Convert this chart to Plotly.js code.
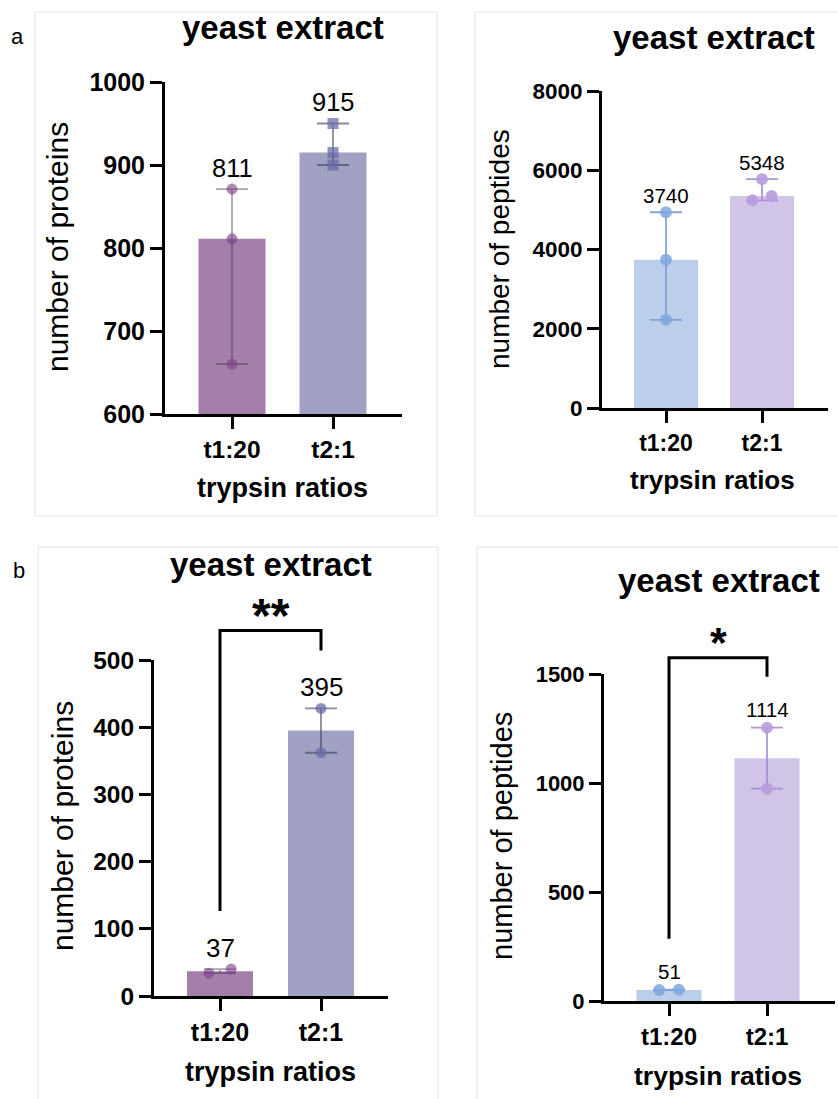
<!DOCTYPE html>
<html>
<head>
<meta charset="utf-8">
<script src="https://cdn.plot.ly/plotly-3.0.1.min.js"></script>
<style>
  html, body { margin: 0; padding: 0; background: #ffffff; }
  #chart { width: 838px; height: 1099px; }
</style>
</head>
<body>
<div id="chart"></div>
<script>
// ---------------- data ----------------
const categories = ['t1:20', 't2:1'];
const panelTitle = 'yeast extract';
const xAxisTitle = 'trypsin ratios';
const yTitleProteins = 'number of proteins';
const yTitlePeptides = 'number of peptides';
const panelLetters = ['a', 'b'];

// (a) proteins
const aProteinBars = [811, 915];
const aProteinT1 = [871, 811, 660];
const aProteinT2 = [950, 915, 900];
// (a) peptides
const aPeptideBars = [3740, 5348];
const aPeptideT1 = [4940, 3740, 2225];
const aPeptideT2 = [5776, 5241, 5348];
// (b) proteins
const bProteinBars = [37, 395];
const bProteinT1 = [34, 40];
const bProteinT2 = [428, 362];
const bProteinSignificance = '**';
// (b) peptides
const bPeptideBars = [51, 1114];
const bPeptideT1 = [50, 52];
const bPeptideT2 = [1254, 974];
const bPeptideSignificance = '*';

// ---------------- style / layout ----------------
const W = 838, H = 1099;
const FONT = 'Liberation Sans, Arial, Helvetica, sans-serif';
const PURPLE = '#A47FA9', SLATE = '#A1A1C4', BLUE = '#BCCFEA', LILAC = '#D0C4E7';
const PURPLE_PT = 'rgba(122,66,138,0.62)', SLATE_PT = 'rgba(104,104,168,0.72)';
const BLUE_PT = 'rgba(128,166,222,0.85)', LILAC_PT = 'rgba(184,156,222,0.9)';
const PURPLE_ERR = 'rgba(60,50,70,0.45)', SLATE_ERR = 'rgba(60,60,90,0.6)';
const BLUE_ERR = 'rgba(118,155,215,0.9)', LILAC_ERR = 'rgba(168,138,212,0.9)';

const panels = [
  { bars: aProteinBars, reps: [aProteinT1, aProteinT2], yTitle: yTitleProteins,
    box: [35, 12, 437, 516], xPx: [165, 402], tickPx: [232, 333], barPx: 67,
    yPx: [82, 414], yRange: [600, 1000], dtick: 100,
    barColors: [PURPLE, SLATE], ptColors: [PURPLE_PT, SLATE_PT], errColors: [PURPLE_ERR, SLATE_ERR],
    symbols: ['circle', 'square'], jitter: [[0, 0, 0], [0, 0, 0]], markerSize: 11,
    titleAt: [283, 28], xTitleAt: [282, 488, 27], yTitleAt: [58, 247, 30],
    yTickSize: 25, xTickSize: 24.5, valueSize: 25.5, valueGap: 21, capHalf: 16 },
  { bars: aPeptideBars, reps: [aPeptideT1, aPeptideT2], yTitle: yTitlePeptides,
    box: [475, 12, 845, 516], xPx: [602, 828], tickPx: [666, 762], barPx: 64,
    yPx: [91, 408], yRange: [0, 8000], dtick: 2000,
    barColors: [BLUE, LILAC], ptColors: [BLUE_PT, LILAC_PT], errColors: [BLUE_ERR, LILAC_ERR],
    symbols: ['circle', 'circle'], jitter: [[0, 0, 0], [0, -0.1, 0.1]], markerSize: 12,
    titleAt: [714, 38], xTitleAt: [712, 480, 26], yTitleAt: [500, 249, 28],
    yTickSize: 22.5, xTickSize: 23, valueSize: 20.5, valueGap: 17, capHalf: 16 },
  { bars: bProteinBars, reps: [bProteinT1, bProteinT2], yTitle: yTitleProteins,
    box: [38, 547, 438, 1110], xPx: [154, 388], tickPx: [220, 321], barPx: 66,
    yPx: [660, 996], yRange: [0, 500], dtick: 100,
    barColors: [PURPLE, SLATE], ptColors: [PURPLE_PT, SLATE_PT], errColors: [PURPLE_ERR, SLATE_ERR],
    symbols: ['circle', 'circle'], jitter: [[-0.11, 0.11], [0, 0]], markerSize: 11,
    titleAt: [271, 564], xTitleAt: [270, 1072, 27], yTitleAt: [62, 826, 30],
    yTickSize: 24.5, xTickSize: 25, valueSize: 26, valueGap: 21, capHalf: 16,
    sig: bProteinSignificance, legGap: 58, bracketH: 20, starGap: 25, starSize: 48 },
  { bars: bPeptideBars, reps: [bPeptideT1, bPeptideT2], yTitle: yTitlePeptides,
    box: [477, 547, 845, 1110], xPx: [604, 835], tickPx: [669, 767], barPx: 65,
    yPx: [674, 1001], yRange: [0, 1500], dtick: 500,
    barColors: [BLUE, LILAC], ptColors: [BLUE_PT, LILAC_PT], errColors: [BLUE_ERR, LILAC_ERR],
    symbols: ['circle', 'circle'], jitter: [[-0.1, 0.1], [0, 0]], markerSize: 12,
    titleAt: [719, 580], xTitleAt: [718, 1076, 26.5], yTitleAt: [502, 836, 29],
    yTickSize: 22, xTickSize: 24, valueSize: 20.5, valueGap: 18, capHalf: 16,
    sig: bPeptideSignificance, legGap: 51, bracketH: 19, starGap: 25, starSize: 43 }
];

const px2x = px => px / W;
const px2y = py => 1 - py / H;

const layout = {
  width: W, height: H,
  margin: { l: 0, r: 0, t: 0, b: 0, pad: 0 },
  paper_bgcolor: '#ffffff', plot_bgcolor: 'rgba(0,0,0,0)',
  showlegend: false,
  font: { family: FONT, color: '#000000' },
  shapes: [], annotations: []
};
const traces = [];

panels.forEach((p, k) => {
  const sfx = k === 0 ? '' : String(k + 1);
  const xa = 'x' + sfx, ya = 'y' + sfx;
  const unit = p.tickPx[1] - p.tickPx[0];
  const xRange = [-(p.tickPx[0] - p.xPx[0]) / unit, 1 + (p.xPx[1] - p.tickPx[1]) / unit];
  const dataToPy = v => p.yPx[1] - (v - p.yRange[0]) / (p.yRange[1] - p.yRange[0]) * (p.yPx[1] - p.yPx[0]);

  layout['xaxis' + sfx] = {
    domain: [px2x(p.xPx[0]), px2x(p.xPx[1])], anchor: ya, range: xRange,
    tickmode: 'array', tickvals: [0, 1], ticktext: categories,
    showline: true, linewidth: 3, linecolor: '#000', mirror: false,
    ticks: 'outside', ticklen: 12, tickwidth: 3, tickcolor: '#000',
    showgrid: false, zeroline: false, fixedrange: true,
    tickfont: { family: FONT, size: p.xTickSize, weight: 'bold', color: '#000' }
  };
  layout['yaxis' + sfx] = {
    domain: [px2y(p.yPx[1]), px2y(p.yPx[0])], anchor: xa, range: p.yRange,
    tickmode: 'linear', tick0: p.yRange[0], dtick: p.dtick,
    showline: true, linewidth: 3, linecolor: '#000',
    ticks: 'outside', ticklen: 12, tickwidth: 3, tickcolor: '#000',
    showgrid: false, zeroline: false, fixedrange: true,
    tickfont: { family: FONT, size: p.yTickSize, weight: 'bold', color: '#000' }
  };

  // bars
  traces.push({
    type: 'bar', x: [0, 1], y: p.bars, xaxis: xa, yaxis: ya,
    width: p.barPx / unit, marker: { color: p.barColors, line: { width: 0 } },
    hoverinfo: 'skip'
  });
  // error bars (range of replicates) and replicate points
  p.reps.forEach((r, i) => {
    const hi = Math.max(...r), lo = Math.min(...r);
    traces.push({
      type: 'scatter', mode: 'markers', x: [i], y: [p.bars[i]], xaxis: xa, yaxis: ya,
      marker: { size: 1, color: 'rgba(0,0,0,0)' }, hoverinfo: 'skip',
      error_y: { type: 'data', symmetric: false, array: [hi - p.bars[i]], arrayminus: [p.bars[i] - lo],
                 color: p.errColors[i], thickness: 1.8, width: p.capHalf }
    });
  });
  p.reps.forEach((r, i) => {
    traces.push({
      type: 'scatter', mode: 'markers', xaxis: xa, yaxis: ya,
      x: r.map((_, j) => i + p.jitter[i][j]), y: r,
      marker: { symbol: p.symbols[i], size: p.markerSize, color: p.ptColors[i], line: { width: 0 } },
      cliponaxis: false, hoverinfo: 'skip'
    });
    // value label above the highest replicate
    layout.annotations.push({
      xref: xa, yref: ya, x: i, y: Math.max(...r), yshift: p.valueGap,
      text: String(p.bars[i]), showarrow: false, xanchor: 'center', yanchor: 'middle',
      font: { family: FONT, size: p.valueSize, color: '#000' }
    });
  });

  // frame
  layout.shapes.push({
    type: 'rect', xref: 'paper', yref: 'paper', layer: 'below',
    x0: px2x(p.box[0]), x1: px2x(p.box[2]), y0: px2y(p.box[3]), y1: px2y(p.box[1]),
    line: { color: '#e3e3e3', width: 1 }, fillcolor: 'rgba(0,0,0,0)'
  });
  // titles
  layout.annotations.push({
    xref: 'paper', yref: 'paper', x: px2x(p.titleAt[0]), y: px2y(p.titleAt[1]),
    text: panelTitle, showarrow: false, xanchor: 'center', yanchor: 'middle',
    font: { family: FONT, size: 33, weight: 'bold', color: '#000' }
  });
  layout.annotations.push({
    xref: 'paper', yref: 'paper', x: px2x(p.xTitleAt[0]), y: px2y(p.xTitleAt[1]),
    text: xAxisTitle, showarrow: false, xanchor: 'center', yanchor: 'middle',
    font: { family: FONT, size: p.xTitleAt[2], weight: 'bold', color: '#000' }
  });
  layout.annotations.push({
    xref: 'paper', yref: 'paper', x: px2x(p.yTitleAt[0]), y: px2y(p.yTitleAt[1]),
    text: p.yTitle, showarrow: false, textangle: -90, xanchor: 'center', yanchor: 'middle',
    font: { family: FONT, size: p.yTitleAt[2], color: '#000' }
  });

  // significance bracket
  if (p.sig) {
    const yL = dataToPy(Math.max(...p.reps[0])) - p.legGap;
    const yR = dataToPy(Math.max(...p.reps[1])) - p.legGap;
    const yTop = Math.min(yL, yR) - p.bracketH;
    layout.shapes.push({
      type: 'path', xref: xa, yref: 'paper', layer: 'above',
      path: 'M 0,' + px2y(yL) + ' L 0,' + px2y(yTop) + ' L 1,' + px2y(yTop) + ' L 1,' + px2y(yR),
      line: { color: '#000', width: 3 }
    });
    layout.annotations.push({
      xref: xa, yref: 'paper', x: 0.5, y: px2y(yTop - p.starGap + 0.22 * p.starSize),
      text: p.sig, showarrow: false, xanchor: 'center', yanchor: 'middle',
      font: { family: FONT, size: p.starSize, weight: 'bold', color: '#000' }
    });
  }
});

// panel letters
layout.annotations.push({ xref: 'paper', yref: 'paper', x: px2x(17), y: px2y(36), text: panelLetters[0],
  showarrow: false, xanchor: 'center', yanchor: 'middle', font: { family: FONT, size: 22, color: '#000' } });
layout.annotations.push({ xref: 'paper', yref: 'paper', x: px2x(19), y: px2y(570), text: panelLetters[1],
  showarrow: false, xanchor: 'center', yanchor: 'middle', font: { family: FONT, size: 22, color: '#000' } });

Plotly.newPlot('chart', traces, layout, { staticPlot: true, displayModeBar: false });
</script>
</body>
</html>
